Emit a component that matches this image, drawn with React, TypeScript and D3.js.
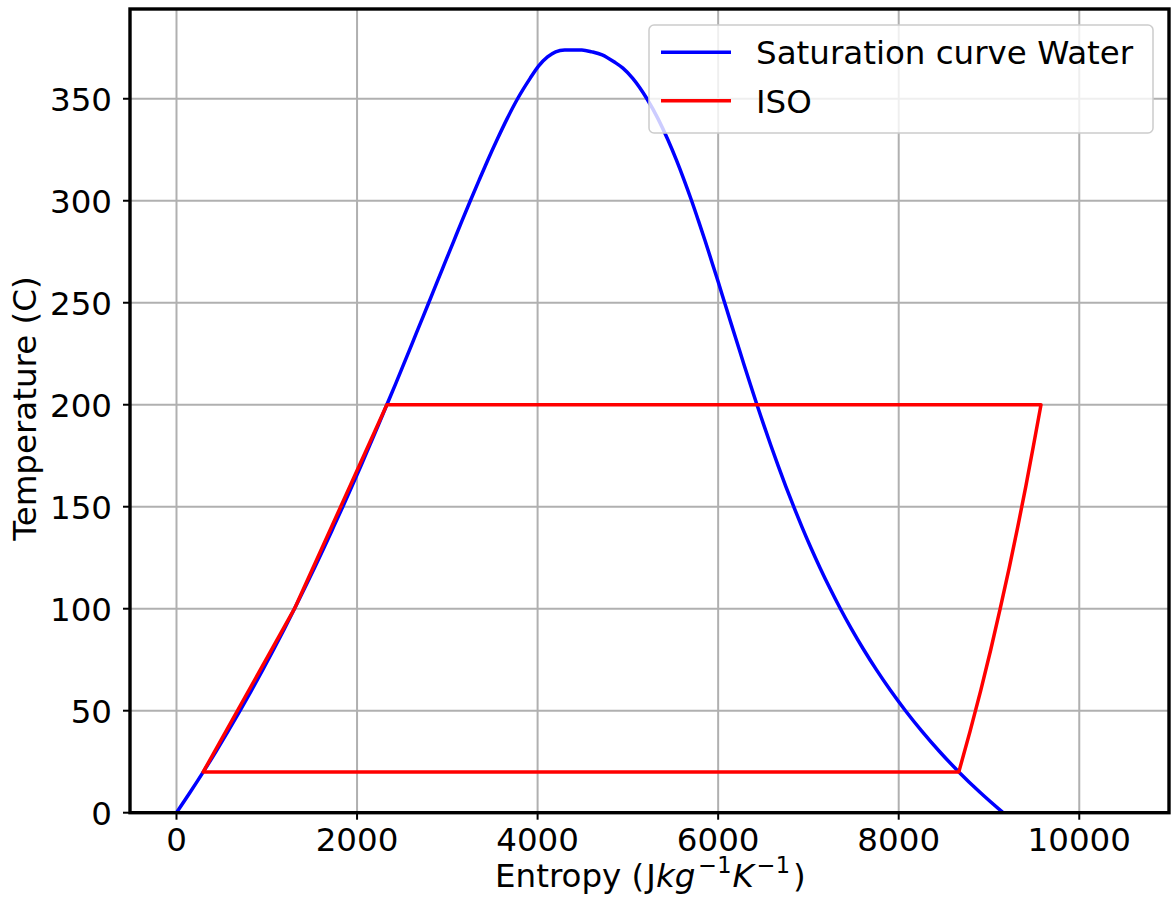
import React from "react";
import * as d3 from "d3";

// saturation curve of water: liquid side then vapour side (temperature C, entropy J/kgK)
const satLiquidT = [0, 10, 20, 30, 40, 50, 60, 70, 80, 90, 100, 110, 120, 130, 140, 150, 160, 170, 180, 190, 200, 210, 220, 230, 240, 250, 260, 270, 280, 290, 300, 310, 320, 330, 340, 350, 360, 366, 370.5, 373, 373.9, 373.95];
const satLiquidS = [0, 151, 297, 437, 572, 704, 831, 955, 1076, 1193, 1307, 1419, 1528, 1635, 1739, 1842, 1943, 2042, 2139, 2236, 2330, 2425, 2518, 2610, 2702, 2794, 2885, 2977, 3069, 3161, 3255, 3351, 3449, 3552, 3660, 3778, 3917, 4010, 4110, 4200, 4300, 4400];
const satVapourT = [373.9, 373, 371.5, 368, 365, 360, 350, 340, 330, 320, 310, 300, 290, 280, 270, 260, 250, 240, 230, 220, 210, 200, 190, 180, 170, 160, 150, 140, 130, 120, 110, 100, 90, 80, 70, 60, 50, 40, 30, 20, 10, 0];
const satVapourS = [4490, 4600, 4715, 4850, 4945, 5054, 5211, 5336, 5442, 5537, 5624, 5706, 5783, 5858, 5930, 6002, 6072, 6142, 6213, 6284, 6356, 6430, 6506, 6584, 6665, 6749, 6837, 6929, 7026, 7129, 7238, 7354, 7478, 7611, 7754, 7908, 8075, 8256, 8452, 8666, 8900, 9156];

// ISO cycle path
const isoT = [20, 100, 200, 200, 180, 160, 140, 120, 100, 80, 60, 40, 20, 20];
const isoS = [296, 1307, 2330, 9576, 9493, 9408, 9318, 9224, 9124, 9020, 8909, 8791, 8666, 296];

const xTicks = [0, 2000, 4000, 6000, 8000, 10000];
const yTicks = [0, 50, 100, 150, 200, 250, 300, 350];

const legendItems = [
  { label: "Saturation curve Water", color: "#0000ff" },
  { label: "ISO", color: "#ff0000" },
];

const W = 1173;
const H = 908;
const font = "DejaVu Sans, sans-serif";
const fs = 32.5;

export default function App() {
  const x = d3.scaleLinear().domain([-515, 10994]).range([130, 1169]);
  const y = d3.scaleLinear().domain([0, 394]).range([812.7, 9]);

  const sat: [number, number][] = [
    ...satLiquidS.map((s, i) => [s, satLiquidT[i]] as [number, number]),
    ...satVapourS.map((s, i) => [s, satVapourT[i]] as [number, number]),
  ];
  const iso: [number, number][] = isoS.map((s, i) => [s, isoT[i]]);

  const satLine = d3
    .line<[number, number]>()
    .x((d) => x(d[0]))
    .y((d) => y(d[1]))
    .curve(d3.curveMonotoneX);
  const isoLine = d3
    .line<[number, number]>()
    .x((d) => x(d[0]))
    .y((d) => y(d[1]));

  const [x0, x1] = x.range();
  const [y0, y1] = y.range();

  return (
    <svg
      width={W}
      height={H}
      style={{ position: "absolute", left: 0, top: 0, background: "#fff" }}
      fontFamily={font}
    >
      <defs>
        <clipPath id="plot">
          <rect x={x0} y={y1} width={x1 - x0} height={y0 - y1} />
        </clipPath>
      </defs>

      {/* grid */}
      <g stroke="#b0b0b0" strokeWidth={2}>
        {xTicks.map((t) => (
          <line key={"gx" + t} x1={x(t)} x2={x(t)} y1={y0} y2={y1} />
        ))}
        {yTicks.map((t) => (
          <line key={"gy" + t} x1={x0} x2={x1} y1={y(t)} y2={y(t)} />
        ))}
      </g>

      {/* data */}
      <g clipPath="url(#plot)" fill="none" strokeLinejoin="round" strokeLinecap="round">
        <path d={satLine(sat) || ""} stroke="#0000ff" strokeWidth={3.5} />
        <path d={isoLine(iso) || ""} stroke="#ff0000" strokeWidth={3.5} />
      </g>

      {/* ticks */}
      <g stroke="#000" strokeWidth={2}>
        {xTicks.map((t) => (
          <line key={"tx" + t} x1={x(t)} x2={x(t)} y1={y0} y2={y0 + 7} />
        ))}
        {yTicks.map((t) => (
          <line key={"ty" + t} x1={x0 - 7} x2={x0} y1={y(t)} y2={y(t)} />
        ))}
      </g>
      <g fontSize={fs} fill="#000">
        {xTicks.map((t) => (
          <text key={"lx" + t} x={x(t)} y={851} textAnchor="middle">
            {t}
          </text>
        ))}
        {yTicks.map((t) => (
          <text key={"ly" + t} x={112} y={y(t) + 11.8} textAnchor="end">
            {t}
          </text>
        ))}
      </g>

      {/* spines */}
      <rect x={x0} y={y1} width={x1 - x0} height={y0 - y1} fill="none" stroke="#000" strokeWidth={3.4} />

      {/* axis labels */}
      <text x={495} y={887} fontSize={fs}>
        Entropy (
        <tspan dx={2}>J</tspan>
        <tspan fontStyle="italic">kg</tspan>
        <tspan fontSize={22.5} dx={3} dy={-14}>−1</tspan>
        <tspan fontStyle="italic" dx={1} dy={14}>K</tspan>
        <tspan fontSize={22.5} dx={3} dy={-14}>−1</tspan>
        <tspan dx={3} dy={14}>)</tspan>
      </text>
      <text transform={`translate(36, ${(280 + 537) / 2}) rotate(-90)`} textAnchor="middle" fontSize={fs}>
        Temperature (C)
      </text>

      {/* legend */}
      <g>
        <rect x={649} y={25} width={504} height={108} rx={5} fill="#fff" fillOpacity={0.8} stroke="#cccccc" strokeWidth={1.5} />
        {legendItems.map((item, i) => (
          <g key={item.label} transform={`translate(0, ${52.3 + i * 48.4})`}>
            <line x1={661} x2={731} y1={0} y2={0} stroke={item.color} strokeWidth={3.5} />
            <text x={756} y={12} fontSize={fs}>
              {item.label}
            </text>
          </g>
        ))}
      </g>
    </svg>
  );
}
